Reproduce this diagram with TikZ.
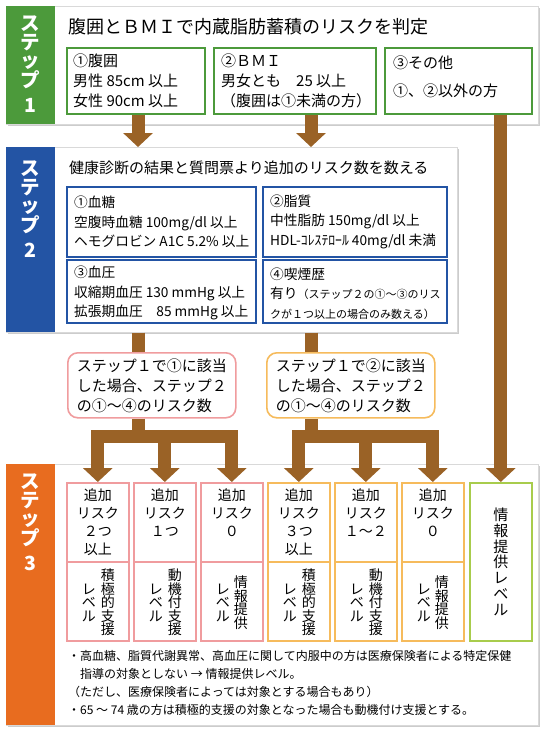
\documentclass[tikz,border=0pt]{standalone}
\usepackage{fontspec}
\setmainfont{Noto Sans CJK JP}
\usetikzlibrary{arrows.meta,calc,shadows}
\definecolor{g1}{HTML}{4C9A3B}
\definecolor{b2}{HTML}{2354A4}
\definecolor{o3}{HTML}{E86C1F}
\definecolor{brn}{HTML}{9A6226}
\definecolor{pk}{HTML}{F09C9E}
\definecolor{orl}{HTML}{F6BB5C}
\definecolor{lg}{HTML}{A8CC4C}
\tikzset{
  panel/.style={draw=black!15, fill=white, line width=0.6pt, anchor=north west, inner sep=0pt,
    drop shadow={shadow xshift=1.2pt, shadow yshift=-1.2pt, opacity=0.2, fill=black}},
  steptab/.style={fill=#1, draw=none, anchor=north west, inner sep=0pt, minimum width=49pt},
  tabtxt/.style={font=\fontsize{19.5}{18.5}\selectfont\bfseries, text=white, align=center, anchor=north, inner sep=0pt},
  title1/.style={font=\fontsize{18}{20}\selectfont, anchor=west, inner sep=0pt},
  title2/.style={font=\fontsize{15}{20}\selectfont, anchor=west, inner sep=0pt},
  frame/.style={draw=#1, line width=1.6pt, fill=white, anchor=north west, inner sep=0pt},
  txtA/.style={font=\fontsize{15}{20}\selectfont, align=left, anchor=west, inner sep=0pt},
  txtB/.style={font=\fontsize{13.7}{19.5}\selectfont, align=left, anchor=west, inner sep=0pt},
  rbox/.style={draw=#1, line width=1.6pt, fill=white, rounded corners=10pt, anchor=north west,
    inner sep=0pt, minimum width=168pt, minimum height=65pt},
  rtxt/.style={font=\fontsize{15}{20}\selectfont, align=left, inner sep=0pt},
  rcell/.style={draw=#1, line width=1.6pt, fill=white, anchor=north west, inner sep=0pt,
    minimum width=62pt, minimum height=158pt},
  ctxt/.style={font=\fontsize{14}{18}\selectfont, align=center, anchor=north, inner sep=0pt},
  vtxt/.style={font=\fontsize{14}{13.5}\selectfont, align=center, inner sep=0pt},
  vtxtg/.style={font=\fontsize{15}{15.8}\selectfont, align=center, inner sep=0pt},
  notetxt/.style={font=\fontsize{12}{18}\selectfont, align=left, anchor=north west, inner sep=0pt},
  bline/.style={draw=brn, line width=13pt},
  barrow/.style={draw=brn, line width=13pt, -{Triangle[width=29pt,length=14pt]}},
}
\begin{document}
\begin{tikzpicture}[x=1pt,y=-1pt]
\useasboundingbox (0,0) rectangle (545,732);
\fill[white] (0,0) rectangle (545,732);

% ---------- Step 1 ----------
\node[panel, minimum width=532pt, minimum height=118pt] (P1) at (6,6) {};
\node[steptab=g1, minimum height=118pt] (T1) at (6,6) {};
\node[tabtxt] (L1) at ($(T1.north)+(0,10)$) {ス\\テ\\ッ\\プ\\[6pt]1};
\node[title1] (H1) at (68,27) {腹囲とＢＭＩで内蔵脂肪蓄積のリスクを判定};
\node[frame=g1, minimum width=138pt, minimum height=66pt] (B11) at (66,47) {};
\node[frame=g1, minimum width=162pt, minimum height=66pt] (B12) at (213,47) {};
\node[frame=g1, minimum width=147pt, minimum height=66pt] (B13) at (384,47) {};
\node[txtA] (B11t) at ($(B11.west)+(7,0)$) {①腹囲\\男性 85cm 以上\\女性 90cm 以上};
\node[txtA] (B12t) at ($(B12.west)+(8,0)$) {②ＢＭＩ\\男女とも　25 以上\\（腹囲は①未満の方）};
\node[txtA] (B13t) at ($(B13.west)+(9,-4)$) {③その他\\[8pt]①、②以外の方};

% ---------- Step 2 ----------
\node[panel, minimum width=451pt, minimum height=185pt] (P2) at (6,147) {};
\node[steptab=b2, minimum height=185pt] (T2) at (6,147) {};
\node[tabtxt] (L2) at ($(T2.north)+(0,14)$) {ス\\テ\\ッ\\プ\\[6pt]2};
\node[title2] (H2) at (69,168) {健康診断の結果と質問票より追加のリスク数を数える};
\node[frame=b2, minimum width=189pt, minimum height=70pt] (B21) at (66,186) {};
\node[frame=b2, minimum width=184pt, minimum height=70pt] (B22) at (262,186) {};
\node[frame=b2, minimum width=189pt, minimum height=63pt] (B23) at (66,259) {};
\node[frame=b2, minimum width=184pt, minimum height=63pt] (B24) at (262,259) {};
\node[txtB] (B21t) at ($(B21.west)+(8,0)$) {①血糖\\空腹時血糖 100mg/dl 以上\\ヘモグロビン A1C 5.2\% 以上};
\node[txtB] (B22t) at ($(B22.west)+(8,0)$) {②脂質\\中性脂肪 150mg/dl 以上\\HDL-ｺﾚｽﾃﾛｰﾙ 40mg/dl 未満};
\node[txtB] (B23t) at ($(B23.west)+(8,2)$) {③血圧\\収縮期血圧 130 mmHg 以上\\拡張期血圧　85 mmHg 以上};
\node[txtB] (B24t) at ($(B24.west)+(8,2)$) {④喫煙歴\\有り{\fontsize{11}{19.5}\selectfont （ステップ２の①～③のリス}\\{\fontsize{11}{19.5}\selectfont クが１つ以上の場合のみ数える）}};

% ---------- Rounded boxes ----------
\node[rbox=pk] (R1) at (67,352) {};
\node[rbox=orl] (R2) at (266,352) {};
\node[rtxt] (R1t) at (R1.center) {ステップ１で①に該当\\した場合、ステップ２\\の①～④のリスク数};
\node[rtxt] (R2t) at (R2.center) {ステップ１で②に該当\\した場合、ステップ２\\の①～④のリスク数};

% ---------- Step 3 ----------
\node[panel, minimum width=532pt, minimum height=261pt] (P3) at (6,464) {};
\node[steptab=o3, minimum height=261pt] (T3) at (6,464) {};
\node[tabtxt] (L3) at ($(T3.north)+(0,10)$) {ス\\テ\\ッ\\プ\\[6pt]3};

\node[rcell=pk] (C1) at (66,482) {};
\node[rcell=pk] (C2) at (133,482) {};
\node[rcell=pk] (C3) at (200,482) {};
\node[rcell=orl] (C4) at (267,482) {};
\node[rcell=orl] (C5) at (334,482) {};
\node[rcell=orl] (C6) at (401,482) {};
\node[rcell=lg] (C7) at (469,482) {};
\foreach \c/\col in {C1/pk,C2/pk,C3/pk,C4/orl,C5/orl,C6/orl}{
  \draw[\col, line width=1.6pt] ($(\c.north west)+(0,80)$) -- ($(\c.north east)+(0,80)$);
}
\node[ctxt] (C1t) at ($(C1.north)+(0,6)$) {追加\\リスク\\２つ\\以上};
\node[ctxt] (C2t) at ($(C2.north)+(0,6)$) {追加\\リスク\\１つ};
\node[ctxt] (C3t) at ($(C3.north)+(0,6)$) {追加\\リスク\\０};
\node[ctxt] (C4t) at ($(C4.north)+(0,6)$) {追加\\リスク\\３つ\\以上};
\node[ctxt] (C5t) at ($(C5.north)+(0,6)$) {追加\\リスク\\１～２};
\node[ctxt] (C6t) at ($(C6.north)+(0,6)$) {追加\\リスク\\０};

\node[vtxt] (C1a) at ($(C1.south)+(10,-39)$) {積\\極\\的\\支\\援};
\node[vtxt] (C1b) at ($(C1.south)+(-9,-39)$) {レ\\ベ\\ル};
\node[vtxt] (C2a) at ($(C2.south)+(10,-39)$) {動\\機\\付\\支\\援};
\node[vtxt] (C2b) at ($(C2.south)+(-9,-39)$) {レ\\ベ\\ル};
\node[vtxt] (C3a) at ($(C3.south)+(9,-39)$) {情\\報\\提\\供};
\node[vtxt] (C3b) at ($(C3.south)+(-9,-39)$) {レ\\ベ\\ル};
\node[vtxt] (C4a) at ($(C4.south)+(10,-39)$) {積\\極\\的\\支\\援};
\node[vtxt] (C4b) at ($(C4.south)+(-9,-39)$) {レ\\ベ\\ル};
\node[vtxt] (C5a) at ($(C5.south)+(10,-39)$) {動\\機\\付\\支\\援};
\node[vtxt] (C5b) at ($(C5.south)+(-9,-39)$) {レ\\ベ\\ル};
\node[vtxt] (C6a) at ($(C6.south)+(9,-39)$) {情\\報\\提\\供};
\node[vtxt] (C6b) at ($(C6.south)+(-9,-39)$) {レ\\ベ\\ル};
\node[vtxtg] (C7t) at (C7.center) {情\\報\\提\\供\\レ\\ベ\\ル};

\node[notetxt] (N) at (68,650) {・高血糖、脂質代謝異常、高血圧に関して内服中の方は医療保険者による特定保健\\
\hspace*{12pt}指導の対象としない → 情報提供レベル。\\
（ただし、医療保険者によっては対象とする場合もあり）\\
・65 ～ 74 歳の方は積極的支援の対象となった場合も動機付け支援とする。};

% ---------- Connectors ----------
\coordinate (XA) at (138,0);
\coordinate (XB) at (311,0);
\draw[barrow] (B11.south -| XA) -- (P2.north -| XA);
\draw[barrow] (B12.south -| XB) -- (P2.north -| XB);
\draw[barrow] (B13.south -| C7.north) -- (C7.north);

\draw[bline] (P2.south -| XA) -- (R1.north -| XA);
\draw[bline] (P2.south -| XB) -- (R2.north -| XB);

\coordinate (J1) at (138,436);
\coordinate (J2) at (311,436);
\draw[bline] (R1.south -| J1) -- (J1);
\draw[bline] (R2.south -| J2) -- (J2);
\draw[barrow] (J1) -| (C1.north);
\draw[barrow] (J1) -| (C2.north);
\draw[barrow] (J1) -| (C3.north);
\draw[barrow] (J2) -| (C4.north);
\draw[barrow] (J2) -| (C5.north);
\draw[barrow] (J2) -| (C6.north);
\end{tikzpicture}
\end{document}
